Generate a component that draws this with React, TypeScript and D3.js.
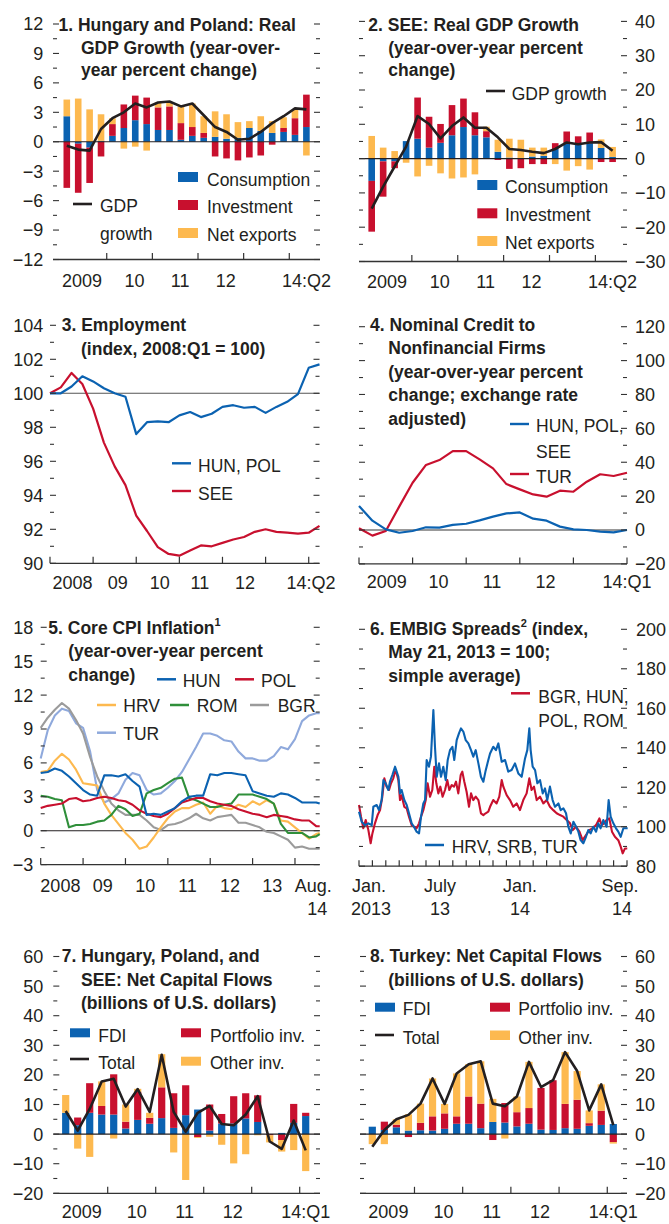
import React from "react";
import * as d3 from "d3";

const FONT = "'Liberation Sans', Arial, Helvetica, sans-serif";
const BLUE = "#0b62b1";
const RED = "#c8102e";
const YEL = "#fdb94f";
const INK = "#231f20";
const AXC = "#333333";
const GREEN = "#2f8f3a";
const GRAY = "#9b9b9b";
const LBLUE = "#8fa9dc";

// ---------- Panel 1: Hungary and Poland real GDP growth (2009:Q1 - 2014:Q2) ----------
const p1XLabels = ["2009", "10", "11", "12", "14:Q2"];
const p1Consumption = [2.6, -0.2, -0.6, 0.1, 0.6, 1.4, 2.2, 1.8, 1.2, 1.2, 0.2, 0.6, 0.4, 0.5, 0.3, 0.4, 1.4, 1.1, 0.9, 1.0, 0.7, 1.5];
const p1Investment = [-4.7, -5.0, -3.6, -1.5, 1.2, 2.4, 2.5, 2.7, 2.3, 2.4, 1.7, 0.9, 0.5, -1.5, -1.7, -1.9, -1.6, -1.4, -0.3, 0.4, 1.7, 3.3];
const p1NetExports = [1.7, 4.4, 3.3, 2.7, 0.6, -0.7, -0.5, -0.9, 0.5, 0.4, 1.7, 2.4, 1.7, 2.6, 2.5, 1.6, 0.7, 1.5, 1.2, 1.1, 0.9, -1.4];
const p1Gdp = [-0.4, -0.8, -0.9, 1.3, 2.4, 3.0, 3.9, 3.5, 4.0, 4.1, 3.6, 3.9, 2.7, 1.5, 1.0, 0.2, 0.3, 1.0, 1.9, 2.6, 3.4, 3.3];

// ---------- Panel 2: SEE real GDP growth ----------
const p2XLabels = ["2009", "10", "11", "12", "14:Q2"];
const p2Consumption = [-6.5, -0.8, -0.8, 5.1, 5.8, 3.2, 4.6, 6.8, 9.2, 6.8, 6.2, 2.0, 0.3, 0.2, 0.6, 0.8, 2.8, 4.5, 4.0, 4.5, 3.1, 0.5];
const p2Investment = [-14.8, -10.3, -2.0, 0, 12.0, 9.0, 5.5, 8.8, 8.3, 6.7, 1.8, -0.4, -3.0, -2.8, -1.6, -1.6, 1.7, 3.4, 2.5, 3.1, -1.0, -1.0];
const p2NetExports = [6.6, 3.2, 2.2, -1.2, -5.2, -2.1, -4.3, -5.8, -5.5, -4.6, 1.3, 3.5, 5.5, 5.3, 2.6, 2.4, -1.6, -3.5, -2.2, -3.2, 2.5, 2.9];
const p2Gdp = [-14.6, -8.2, -2.3, 3.5, 12.4, 10.1, 5.9, 9.5, 12.0, 9.0, 9.0, 6.2, 2.8, 2.5, 2.0, 1.6, 2.8, 4.7, 4.2, 4.7, 4.8, 2.3];

// ---------- Panel 3: Employment (2008:Q1 - 2014:Q2) ----------
const p3XLabels = ["2008", "09", "10", "11", "12", "14:Q2"];
const p3HunPol = [100.0, 100.0, 100.4, 101.0, 100.7, 100.3, 100.0, 99.8, 97.6, 98.3, 98.35, 98.3, 98.7, 98.9, 98.6, 98.8, 99.2, 99.3, 99.15, 99.2, 98.85, 99.2, 99.5, 99.95, 101.5, 101.7];
const p3See = [100.0, 100.35, 101.2, 100.55, 99.1, 97.1, 95.7, 94.6, 92.8, 91.9, 90.95, 90.55, 90.45, 90.75, 91.05, 91.0, 91.2, 91.4, 91.55, 91.85, 92.0, 91.85, 91.8, 91.75, 91.8, 92.2];

// ---------- Panel 4: Nominal credit to nonfinancial firms (2009:Q1 - 2014:Q1) ----------
const p4XLabels = ["2009", "10", "11", "12", "14:Q1"];
const p4HunPolSee = [14.2, 5.5, 0.4, -1.6, -0.6, 1.6, 1.4, 3.0, 3.7, 5.7, 7.9, 9.8, 10.4, 6.7, 5.5, 2.0, 0.4, 0, -1.0, -1.4, 0];
const p4Tur = [1.0, -3.3, -0.6, 13.8, 27.9, 38.4, 41.3, 46.6, 46.6, 41.7, 36.4, 27.1, 24.0, 21.0, 19.7, 23.2, 22.6, 28.5, 32.9, 31.9, 33.8];

// ---------- Panel 5: Core CPI inflation (months since Jan 2008) ----------
const p5XLabels = ["2008", "09", "10", "11", "12", "13", "Aug."];
const cpiMonths = [0, 2, 4, 6, 8, 10, 12, 14, 16, 18, 20, 22, 24, 26, 28, 30, 32, 34, 36, 38, 40, 42, 44, 46, 48, 50, 52, 54, 56, 58, 60, 62, 64, 66, 68, 70, 72, 74, 76, 78, 79];
const cpiTur = [6.4, 8.9, 10.2, 10.8, 10.6, 9.5, 9.1, 7.0, 3.6, 2.5, 2.8, 3.3, 4.5, 5.1, 4.9, 3.6, 3.2, 3.3, 3.8, 4.4, 5.2, 6.3, 7.4, 8.6, 8.6, 8.4, 8.0, 7.9, 7.0, 6.4, 6.4, 6.2, 6.2, 6.6, 7.4, 7.2, 8.1, 9.7, 10.2, 10.4, 10.4];
const cpiBgr = [9.1, 10.0, 10.7, 11.3, 10.8, 9.8, 8.6, 6.5, 4.8, 3.5, 2.4, 1.8, 1.4, 1.4, 1.4, 0.9, 0.3, 0.06, 0.5, 0.6, 0.8, 1.1, 1.5, 1.1, 0.9, 1.2, 1.3, 1.4, 0.7, 0.7, 0.5, 0.3, -0.1, -0.2, -0.5, -0.8, -1.5, -1.4, -1.6, -1.6, -1.6];
const cpiHrv = [5.2, 5.3, 6.2, 6.8, 6.3, 5.4, 4.2, 4.1, 4.0, 2.4, 1.4, 0.6, -0.2, -0.8, -1.6, -1.4, -0.6, 0.3, 1.1, 1.7, 2.0, 2.0, 2.3, 2.5, 1.5, 2.2, 2.0, 1.9, 2.3, 2.1, 2.6, 2.3, 2.7, 2.4, 0.9, 0.8, 0.3, -0.2, -0.7, -0.3, -0.2];
const cpiRom = [3.1, 3.0, 2.8, 2.7, 0.3, 0.5, 0.5, 0.6, 0.8, 0.9, 1.4, 2.2, 1.9, 1.3, 1.5, 3.3, 3.6, 3.8, 4.2, 4.6, 4.7, 2.9, 2.7, 2.4, 2.1, 2.1, 2.3, 2.4, 3.2, 3.2, 3.2, 3.0, 2.8, 2.4, 0.6, -0.2, -0.2, -0.2, -0.6, -0.5, -0.3];
const cpiPol = [2.0, 2.2, 2.3, 2.4, 2.8, 2.9, 2.6, 2.7, 2.9, 3.0, 2.9, 2.7, 2.6, 2.3, 1.8, 1.5, 1.3, 1.2, 1.5, 2.0, 2.5, 2.7, 2.9, 2.9, 2.6, 2.4, 2.3, 2.2, 1.9, 1.7, 1.5, 1.4, 1.2, 1.4, 1.3, 1.2, 1.0, 0.9, 0.9, 0.4, 0.4];
const cpiHun = [5.1, 5.2, 5.5, 5.3, 4.8, 4.2, 3.6, 3.2, 3.1, 4.9, 4.9, 4.8, 5.0, 4.4, 3.9, 1.4, 1.5, 1.4, 1.7, 2.0, 2.6, 3.0, 3.1, 3.1, 5.0, 4.9, 5.1, 5.1, 5.0, 4.9, 3.5, 3.3, 3.1, 3.0, 3.3, 3.2, 2.9, 2.5, 2.5, 2.5, 2.4];

// ---------- Panel 6: EMBIG spreads (months since Jan 1, 2013) ----------
const p6XLabels = ["Jan.", "July", "Jan.", "Sep."];
const p6XLabels2 = ["2013", "13", "14", "14"];
const embiRedMonths = [0, 0.15, 0.32, 0.5, 0.7, 0.87, 1.0, 1.19, 1.39, 1.57, 1.74, 1.89, 2.06, 2.24, 2.39, 2.56, 2.69, 2.81, 2.94, 3.06, 3.18, 3.38, 3.56, 3.73, 3.93, 4.1, 4.3, 4.48, 4.63, 4.8, 4.98, 5.12, 5.3, 5.47, 5.62, 5.77, 5.92, 6.07, 6.24, 6.42, 6.59, 6.74, 6.92, 7.09, 7.24, 7.41, 7.59, 7.71, 7.86, 8.03, 8.21, 8.36, 8.53, 8.71, 8.91, 9.1, 9.28, 9.45, 9.65, 9.78, 10.02, 10.27, 10.47, 10.65, 10.77, 11.02, 11.27, 11.51, 11.77, 12.01, 12.26, 12.51, 12.71, 12.88, 13.06, 13.26, 13.51, 13.76, 14.0, 14.25, 14.5, 14.75, 15.0, 15.25, 15.5, 15.75, 15.95, 16.2, 16.45, 16.69, 16.94, 17.19, 17.44, 17.69, 17.94, 18.11, 18.28, 18.48, 18.68, 18.88, 19.1, 19.35, 19.53, 19.68, 19.85, 20.02];
const embiBgrHunPolRom = [111, 105.1, 99.2, 103.4, 98.3, 91.6, 96.6, 101.7, 105.9, 108.4, 115.2, 124.5, 120.3, 118.6, 122, 124.5, 127.9, 127, 123.6, 113.5, 115.9, 110.1, 109.3, 105.1, 100.8, 100, 99.2, 101.7, 105.1, 108.4, 113.5, 122, 115.2, 118.6, 130.4, 122, 116.9, 120.3, 115.2, 118.6, 123.6, 118.6, 121.1, 120.3, 122.8, 116.9, 126.2, 127.9, 122.8, 117.7, 110.1, 116.9, 113.5, 115.2, 113.5, 106.8, 105.9, 106.8, 107.6, 110.1, 113.5, 111.8, 115.2, 123.6, 120.3, 116, 113.5, 110.1, 111.8, 108.4, 113.5, 116.9, 124.5, 118.6, 120.3, 113.5, 115.2, 111.8, 113.5, 110.1, 108.4, 106.8, 105.9, 105.1, 103.4, 101.7, 98.3, 100, 97.5, 93.2, 95.8, 98.3, 99.2, 100.8, 104.2, 100.8, 101.7, 103.4, 104.2, 97.5, 94.9, 93.2, 89.9, 86.5, 89, 89];
const embiBlueMonths = [0, 0.2, 0.45, 0.7, 0.95, 1.07, 1.32, 1.49, 1.69, 1.82, 1.99, 2.19, 2.31, 2.49, 2.69, 2.81, 2.94, 3.06, 3.18, 3.38, 3.56, 3.73, 3.93, 4.1, 4.3, 4.48, 4.63, 4.8, 4.93, 5.05, 5.22, 5.37, 5.55, 5.67, 5.8, 5.97, 6.12, 6.29, 6.47, 6.62, 6.79, 6.97, 7.11, 7.29, 7.46, 7.61, 7.79, 7.96, 8.16, 8.36, 8.53, 8.71, 8.91, 9.1, 9.28, 9.45, 9.65, 9.78, 10.02, 10.22, 10.4, 10.65, 10.9, 11.14, 11.39, 11.64, 11.89, 12.14, 12.39, 12.56, 12.71, 12.81, 12.96, 13.14, 13.31, 13.51, 13.71, 13.88, 14.05, 14.25, 14.45, 14.63, 14.88, 15.05, 15.25, 15.45, 15.62, 15.8, 16, 16.2, 16.37, 16.54, 16.74, 16.94, 17.11, 17.29, 17.49, 17.69, 17.86, 18.03, 18.23, 18.48, 18.63, 18.78, 18.98, 19.18, 19.35, 19.53, 19.73, 19.93, 20.05];
const embiHrvSrbTur = [107.6, 102.5, 100.8, 101.7, 100.8, 110.1, 111, 108.4, 113.5, 123.6, 122, 118.6, 122.8, 126.2, 130.4, 127.9, 125.3, 116.9, 118.6, 113.5, 111, 106.8, 101.7, 100, 97.5, 96.6, 105.1, 111.8, 113.5, 133.8, 130.4, 135.5, 159.1, 140.5, 125.3, 132.1, 125.3, 130.4, 123.6, 133.8, 138.8, 140.5, 133.8, 143.9, 147.3, 149.8, 148.1, 143.9, 142.2, 138.8, 135.5, 138.8, 132.1, 125.3, 122.8, 128.4, 133.8, 137.1, 140.5, 138.8, 142.2, 132.9, 133.8, 127.9, 128.7, 132.1, 127, 125.3, 134.6, 138.8, 149.8, 138.8, 130.4, 128.7, 122, 123.6, 116.9, 119.4, 113.5, 120.3, 113.5, 110.1, 111.8, 108.4, 109.3, 106.8, 100, 96.6, 102.5, 100, 97.5, 93.2, 91.6, 94.9, 98.3, 96.6, 100, 97.5, 101.7, 99.2, 103.4, 100, 113.5, 105.1, 101.7, 99.2, 97.5, 94.9, 99.2, 99.2, 99.2];

// ---------- Panel 7: Hungary, Poland and SEE net capital flows (2009:Q1 - 2014:Q1) ----------
const p7XLabels = ["2009", "10", "11", "12", "14:Q1"];
const p7Fdi = [7.2, 3.0, 7.2, 6.6, 6.6, 1.9, 4.8, 3.5, 5.4, 2.1, 6.4, 8.3, 1.2, 3.6, 3.6, 5.3, 4.1, 0, 0.4, 3.8, 6.1];
const p7Portfolio = [0, 2.6, 10.0, 2.9, 13.6, 2.3, 9.5, 2.0, 10.4, 11.7, 10.1, -1.0, 8.8, 3.2, 9.2, 8.5, 9.0, -0.4, -2.0, 6.4, 1.1];
const p7Other = [6.0, -4.9, -7.7, 8.3, -1.5, 5.8, 1.0, 1.7, 11.2, -6.2, -15.5, -0.3, -0.9, -3.6, -9.9, -6.8, -0.4, -2.4, -3.9, -5.4, -12.5];
const p7Total = [7.8, 1.2, 8.5, 17.8, 18.7, 9.3, 15.2, 7.5, 26.8, 7.5, 0.8, 7.2, 9.5, 3.4, 3.0, 6.6, 12.8, -2.5, -5.0, 4.6, -5.5];

// ---------- Panel 8: Turkey net capital flows ----------
const p8XLabels = ["2009", "10", "11", "12", "14:Q1"];
const p8Fdi = [2.5, 1.4, 2.3, 1.2, 1.3, 1.2, 1.8, 3.5, 3.5, 2.0, 4.1, 3.9, 2.6, 3.5, 1.5, 1.4, 2.0, 1.8, 2.8, 3.1, 3.4];
const p8Portfolio = [0, 2.8, 0.9, -1.0, 2.5, 4.8, 5.2, 2.5, 9.2, 8.3, -2.0, 6.6, 4.8, 5.3, 14.1, 16.8, 8.2, 9.8, 0.9, 4.8, -2.7];
const p8Other = [-3.4, -3.4, 1.8, 5.5, 6.5, 12.8, 3.2, 14.5, 10.9, 14.3, 7.8, -1.5, 5.3, 15.6, 0, 0, 17.5, 9.7, 4.3, 8.9, -0.5];
const p8Total = [-4.3, 1.4, 5.0, 6.5, 10.3, 18.8, 10.2, 20.5, 23.6, 24.6, 10.3, 9.4, 12.7, 24.4, 15.9, 18.2, 27.7, 21.3, 8.0, 16.8, 3.0];

type Scale = d3.ScaleLinear<number, number>;

const fmt = (v: number) => (v < 0 ? "\u2212" + Math.abs(v) : String(v));

function YTicks({ y, from, to, step, minor, x0, x1, side, labelX }: {
  y: Scale; from: number; to: number; step: number; minor: number; x0: number; x1: number; side: "left" | "right"; labelX: number;
}) {
  const majors = d3.range(from, to + step / 2, step);
  const minors = d3.range(from, to + minor / 2, minor).filter((v) => !majors.some((m) => Math.abs(m - v) < 1e-9));
  return (
    <g>
      {majors.map((v) => (
        <g key={"M" + v}>
          <line x1={x0} x2={x0 + 6} y1={y(v)} y2={y(v)} stroke={AXC} strokeWidth={1.1} />
          <line x1={x1 - 6} x2={x1} y1={y(v)} y2={y(v)} stroke={AXC} strokeWidth={1.1} />
          <text x={labelX} y={y(v) + 6.4} textAnchor={side === "left" ? "end" : "start"} fontSize={18} fill={INK}>
            {fmt(v)}
          </text>
        </g>
      ))}
      {minors.map((v) => (
        <g key={"m" + v}>
          <line x1={x0} x2={x0 + 4} y1={y(v)} y2={y(v)} stroke={AXC} strokeWidth={1.1} />
          <line x1={x1 - 4} x2={x1} y1={y(v)} y2={y(v)} stroke={AXC} strokeWidth={1.1} />
        </g>
      ))}
    </g>
  );
}

function XAxis({ x0, x1, yb, ticks, len = 6.5 }: { x0: number; x1: number; yb: number; ticks: number[]; len?: number }) {
  return (
    <g>
      <line x1={x0} x2={x1} y1={yb} y2={yb} stroke={AXC} strokeWidth={1.3} />
      {ticks.map((t, i) => (
        <line key={i} x1={t} x2={t} y1={yb} y2={yb - len} stroke={AXC} strokeWidth={1.2} />
      ))}
    </g>
  );
}

function XLabels({ labels, xs, y }: { labels: string[]; xs: number[]; y: number }) {
  return (
    <g>
      {labels.map((l, i) => (
        <text key={i} x={xs[i]} y={y} textAnchor="middle" fontSize={18} fill={INK}>
          {l}
        </text>
      ))}
    </g>
  );
}

function Title({ x, xi, ys, lines }: { x: number; xi: number; ys: number[]; lines: React.ReactNode[] }) {
  return (
    <g fontWeight="bold" fontSize={17.5} fill={INK}>
      {lines.map((l, i) => (
        <text key={i} x={i === 0 ? x : xi} y={ys[i]}>
          {l}
        </text>
      ))}
    </g>
  );
}

function StackedBars({ x, y, cols, colors, width }: { x: Scale; y: Scale; cols: number[][]; colors: string[]; width: number }) {
  const keys = cols.map((_, i) => "k" + i);
  const rows = cols[0].map((_, i) => {
    const r: Record<string, number> = {};
    cols.forEach((c, k) => (r["k" + k] = c[i]));
    return r;
  });
  const series = d3.stack<Record<string, number>>().keys(keys).offset(d3.stackOffsetDiverging)(rows);
  return (
    <g>
      {series.map((s, si) => (
        <g key={s.key} fill={colors[si]}>
          {s.map((d, i) => {
            const a = y(d[0]);
            const b = y(d[1]);
            return <rect key={i} x={x(i) - width / 2} width={width} y={Math.min(a, b)} height={Math.abs(b - a)} />;
          })}
        </g>
      ))}
    </g>
  );
}

function IdxLine({ x, y, values, color, w = 2.2 }: { x: Scale; y: Scale; values: number[]; color: string; w?: number }) {
  const gen = d3.line<number>().x((_, i) => x(i)).y((d) => y(d));
  return <path d={gen(values) || ""} fill="none" stroke={color} strokeWidth={w} strokeLinejoin="round" />;
}

function XYLine({ x, y, xs, values, color, w = 2.1 }: { x: Scale; y: Scale; xs: number[]; values: number[]; color: string; w?: number }) {
  const pts = values.map((v, i) => [xs[i], v] as [number, number]);
  const gen = d3.line<[number, number]>().x((d) => x(d[0])).y((d) => y(d[1]));
  return <path d={gen(pts) || ""} fill="none" stroke={color} strokeWidth={w} strokeLinejoin="round" />;
}

function Swatch({ x, y, color, h = 10 }: { x: number; y: number; color: string; h?: number }) {
  return <rect x={x} y={y} width={20} height={h} fill={color} />;
}
function LKey({ x, y, color, w = 2.5 }: { x: number; y: number; color: string; w?: number }) {
  return <line x1={x} x2={x + 19} y1={y} y2={y} stroke={color} strokeWidth={w} />;
}
function T({ x, y, children }: { x: number; y: number; children: React.ReactNode }) {
  return (
    <text x={x} y={y} fontSize={17.5} fill={INK}>
      {children}
    </text>
  );
}

export default function App() {
  // ---------- scales ----------
  const p1x = d3.scaleLinear().domain([0, 21]).range([66.8, 306.4]);
  const p1y = d3.scaleLinear().domain([-12, 12]).range([259.5, 24]);
  const p2x = d3.scaleLinear().domain([0, 21]).range([371.7, 612.6]);
  const p2y = d3.scaleLinear().domain([-30, 40]).range([261.5, 21.4]);
  const p3x = d3.scaleLinear().domain([0, 25]).range([50, 319.5]);
  const p3y = d3.scaleLinear().domain([90, 104]).range([563.3, 325.3]);
  const p4x = d3.scaleLinear().domain([0, 20]).range([359, 627]);
  const p4y = d3.scaleLinear().domain([-20, 120]).range([563.9, 326.7]);
  const p5x = d3.scaleLinear().domain([0, 79]).range([40.7, 319.7]);
  const p5y = d3.scaleLinear().domain([-3, 18]).range([864.6, 627.3]);
  const p6x = d3.scaleLinear().domain([0, 20]).range([359, 627]);
  const p6y = d3.scaleLinear().domain([80, 200]).range([866.2, 629.3]);
  const p7x = d3.scaleLinear().domain([0, 20]).range([65.7, 305.7]);
  const p7y = d3.scaleLinear().domain([-20, 60]).range([1193.3, 956.5]);
  const p8x = d3.scaleLinear().domain([0, 20]).range([372.3, 613.3]);
  const p8y = p7y;

  const yearTicksQ = [3.5, 7.5, 11.5, 15.5, 19.5];
  const barLabelXs = (x: Scale, lastIdx: number) => [x(1.5) - 2, x(5.5) + 5, x(9.5) + 5, x(13.5) + 5, x(lastIdx)];

  return (
    <svg
      width={669}
      height={1224}
      viewBox="0 0 669 1224"
      style={{ position: "absolute", left: 0, top: 0, background: "#fff" }}
      fontFamily={FONT}
    >
      <rect x={0} y={0} width={669} height={1224} fill="#fff" />

      {/* ================= Panel 1 ================= */}
      <StackedBars x={p1x} y={p1y} cols={[p1Consumption, p1Investment, p1NetExports]} colors={[BLUE, RED, YEL]} width={6.6} />
      <line x1={53} x2={320} y1={p1y(0)} y2={p1y(0)} stroke={INK} strokeWidth={1.1} />
      <IdxLine x={p1x} y={p1y} values={p1Gdp} color={INK} w={2.6} />
      <YTicks y={p1y} from={-12} to={12} step={3} minor={1.5} x0={53} x1={320} side="left" labelX={43.3} />
      <XAxis x0={53} x1={320} yb={p1y(-12)} ticks={yearTicksQ.map((q) => p1x(q))} />
      <XLabels labels={p1XLabels} xs={barLabelXs(p1x, 21)} y={286.5} />
      <Title x={58.5} xi={81} ys={[31, 53.5, 76]} lines={["1. Hungary and Poland: Real", "GDP Growth (year-over-", "year percent change)"]} />
      <Swatch x={178} y={172} color={BLUE} />
      <T x={207} y={185.5}>Consumption</T>
      <Swatch x={178} y={200} color={RED} />
      <T x={207} y={213}>Investment</T>
      <Swatch x={178} y={228} color={YEL} />
      <T x={207} y={240.5}>Net exports</T>
      <LKey x={73} y={204} color={INK} w={2.6} />
      <T x={100} y={212}>GDP</T>
      <T x={100} y={239.5}>growth</T>

      {/* ================= Panel 2 ================= */}
      <StackedBars x={p2x} y={p2y} cols={[p2Consumption, p2Investment, p2NetExports]} colors={[BLUE, RED, YEL]} width={6.6} />
      <line x1={359} x2={627} y1={p2y(0)} y2={p2y(0)} stroke={INK} strokeWidth={1.1} />
      <IdxLine x={p2x} y={p2y} values={p2Gdp} color={INK} w={2.6} />
      <YTicks y={p2y} from={-30} to={40} step={10} minor={5} x0={359} x1={627} side="right" labelX={635} />
      <XAxis x0={359} x1={627} yb={p2y(-30)} ticks={yearTicksQ.map((q) => p2x(q))} />
      <XLabels labels={p2XLabels} xs={barLabelXs(p2x, 21)} y={287.5} />
      <Title x={368.3} xi={388.3} ys={[31, 53.5, 76]} lines={["2. SEE: Real GDP Growth", "(year-over-year percent", "change)"]} />
      <LKey x={486} y={91} color={INK} w={2.6} />
      <T x={511.7} y={100}>GDP growth</T>
      <Swatch x={477.3} y={180} color={BLUE} />
      <T x={505} y={193.3}>Consumption</T>
      <Swatch x={477.3} y={208.3} color={RED} />
      <T x={505} y={221}>Investment</T>
      <Swatch x={477.3} y={236} color={YEL} />
      <T x={505} y={248.5}>Net exports</T>

      {/* ================= Panel 3 ================= */}
      <line x1={50} x2={319.5} y1={p3y(100)} y2={p3y(100)} stroke="#555" strokeWidth={1.1} />
      <IdxLine x={p3x} y={p3y} values={p3See} color={RED} w={2.2} />
      <IdxLine x={p3x} y={p3y} values={p3HunPol} color={BLUE} w={2.2} />
      <YTicks y={p3y} from={90} to={104} step={2} minor={1} x0={50} x1={319.5} side="left" labelX={43.3} />
      <XAxis x0={50} x1={319.5} yb={p3y(90)} ticks={[0, 4, 8, 12, 16, 20, 24].map((q) => p3x(q))} />
      <XLabels
        labels={p3XLabels}
        xs={[p3x(2) + 1, p3x(6) + 3, p3x(10) + 2, p3x(14) - 1, p3x(18) + 1, p3x(25) - 8.5]}
        y={589}
      />
      <Title x={61.7} xi={81} ys={[331, 354.5]} lines={["3. Employment", "(index, 2008:Q1 = 100)"]} />
      <LKey x={172} y={463.3} color={BLUE} w={2.4} />
      <T x={198} y={471.7}>HUN, POL</T>
      <LKey x={172} y={491} color={RED} w={2.4} />
      <T x={198} y={499.7}>SEE</T>

      {/* ================= Panel 4 ================= */}
      <line x1={359} x2={627} y1={p4y(0)} y2={p4y(0)} stroke="#777" strokeWidth={1.4} />
      <IdxLine x={p4x} y={p4y} values={p4Tur} color={RED} w={2.2} />
      <IdxLine x={p4x} y={p4y} values={p4HunPolSee} color={BLUE} w={2.2} />
      <YTicks y={p4y} from={-20} to={120} step={20} minor={10} x0={359} x1={627} side="right" labelX={635} />
      <XAxis x0={359} x1={627} yb={p4y(-20)} ticks={[0, 4, 8, 12, 16, 20].map((q) => p4x(q))} />
      <XLabels labels={p4XLabels} xs={[p4x(2) + 1, p4x(6) - 1, p4x(10) - 1, p4x(14) - 1, p4x(20)]} y={588} />
      <Title
        x={370}
        xi={388.3}
        ys={[330.7, 354.3, 377.5, 401, 424.5]}
        lines={["4. Nominal Credit to", "Nonfinancial Firms", "(year-over-year percent", "change; exchange rate", "adjusted)"]}
      />
      <LKey x={510} y={424} color={BLUE} w={2.4} />
      <T x={536} y={432.3}>HUN, POL,</T>
      <T x={536} y={458.3}>SEE</T>
      <LKey x={510} y={474} color={RED} w={2.4} />
      <T x={536} y={483.3}>TUR</T>

      {/* ================= Panel 5 ================= */}
      <line x1={40.7} x2={319.7} y1={p5y(0)} y2={p5y(0)} stroke={INK} strokeWidth={1.1} />
      <XYLine x={p5x} y={p5y} xs={cpiMonths} values={cpiTur} color={LBLUE} />
      <XYLine x={p5x} y={p5y} xs={cpiMonths} values={cpiBgr} color={GRAY} />
      <XYLine x={p5x} y={p5y} xs={cpiMonths} values={cpiHrv} color={YEL} />
      <XYLine x={p5x} y={p5y} xs={cpiMonths} values={cpiRom} color={GREEN} />
      <XYLine x={p5x} y={p5y} xs={cpiMonths} values={cpiPol} color={RED} />
      <XYLine x={p5x} y={p5y} xs={cpiMonths} values={cpiHun} color={BLUE} />
      <YTicks y={p5y} from={-3} to={18} step={3} minor={1.5} x0={40.7} x1={319.7} side="left" labelX={33.3} />
      <XAxis x0={40.7} x1={319.7} yb={p5y(-3)} ticks={[0, 12, 24, 36, 48, 60, 72].map((m) => p5x(m))} />
      <XLabels
        labels={p5XLabels}
        xs={[6, 18, 30, 42, 54, 66].map((m) => p5x(m) - 1.5).concat([p5x(79) - 6.5])}
        y={892}
      />
      <XLabels labels={["14"]} xs={[p5x(79) - 2.5]} y={915} />
      <Title
        x={48.3}
        xi={68.3}
        ys={[634, 657, 680.5]}
        lines={[
          <>
            5. Core CPI Inflation
            <tspan fontSize={11} dy={-8}>
              1
            </tspan>
          </>,
          "(year-over-year percent",
          "change)",
        ]}
      />
      <LKey x={157} y={679.3} color={BLUE} />
      <T x={182.7} y={686.7}>HUN</T>
      <LKey x={235} y={679.3} color={RED} />
      <T x={261} y={686.7}>POL</T>
      <LKey x={97} y={705} color={YEL} />
      <T x={123.3} y={712.3}>HRV</T>
      <LKey x={170} y={705} color={GREEN} />
      <T x={196.7} y={712.3}>ROM</T>
      <LKey x={250} y={705} color={GRAY} />
      <T x={277.7} y={712.3}>BGR</T>
      <LKey x={97} y={732.7} color={LBLUE} />
      <T x={123.3} y={740}>TUR</T>

      {/* ================= Panel 6 ================= */}
      <line x1={359} x2={627} y1={p6y(100)} y2={p6y(100)} stroke="#666" strokeWidth={1.2} />
      <XYLine x={p6x} y={p6y} xs={embiRedMonths} values={embiBgrHunPolRom} color={RED} w={2.1} />
      <XYLine x={p6x} y={p6y} xs={embiBlueMonths} values={embiHrvSrbTur} color={BLUE} w={2.1} />
      <YTicks y={p6y} from={80} to={200} step={20} minor={10} x0={359} x1={627} side="right" labelX={636} />
      <XAxis x0={359} x1={627} yb={p6y(80)} ticks={d3.range(0, 21).map((m) => p6x(m))} len={6} />
      <XLabels labels={p6XLabels} xs={[p6x(0) + 10, p6x(6) + 0.6, p6x(12) + 0.2, p6x(20) - 7]} y={892} />
      <XLabels labels={p6XLabels2} xs={[p6x(0) + 12, p6x(6) + 0.6, p6x(12) + 0.2, p6x(20) - 5]} y={915} />
      <Title
        x={370}
        xi={388.3}
        ys={[635, 658, 681.5]}
        lines={[
          <>
            6. EMBIG Spreads
            <tspan fontSize={11} dy={-8}>
              2
            </tspan>
            <tspan dy={8}> (index,</tspan>
          </>,
          "May 21, 2013 = 100;",
          "simple average)",
        ]}
      />
      <LKey x={511} y={693.3} color={RED} />
      <T x={538.3} y={702.7}>BGR, HUN,</T>
      <T x={538.3} y={726.7}>POL, ROM</T>
      <LKey x={425} y={845} color={BLUE} />
      <T x={451.7} y={853.3}>HRV, SRB, TUR</T>

      {/* ================= Panel 7 ================= */}
      <StackedBars x={p7x} y={p7y} cols={[p7Fdi, p7Portfolio, p7Other]} colors={[BLUE, RED, YEL]} width={7.2} />
      <line x1={53.3} x2={320} y1={p7y(0)} y2={p7y(0)} stroke={INK} strokeWidth={1.1} />
      <IdxLine x={p7x} y={p7y} values={p7Total} color={INK} w={2.6} />
      <YTicks y={p7y} from={-20} to={60} step={10} minor={5} x0={53.3} x1={320} side="left" labelX={43.3} />
      <XAxis x0={53.3} x1={320} yb={p7y(-20)} ticks={yearTicksQ.map((q) => p7x(q))} />
      <XLabels labels={p7XLabels} xs={barLabelXs(p7x, 20)} y={1217.5} />
      <Title
        x={61.7}
        xi={81}
        ys={[962, 985.5, 1009]}
        lines={["7. Hungary, Poland, and", "SEE: Net Capital Flows", "(billions of U.S. dollars)"]}
      />
      <Swatch x={70} y={1028.3} color={BLUE} h={9} />
      <T x={98.3} y={1041.7}>FDI</T>
      <LKey x={70} y={1059} color={INK} w={2.6} />
      <T x={98.3} y={1069.3}>Total</T>
      <Swatch x={181} y={1028.3} color={RED} h={9} />
      <T x={210} y={1041.7}>Portfolio inv.</T>
      <Swatch x={181} y={1056.7} color={YEL} h={9} />
      <T x={210} y={1069.3}>Other inv.</T>

      {/* ================= Panel 8 ================= */}
      <StackedBars x={p8x} y={p8y} cols={[p8Fdi, p8Portfolio, p8Other]} colors={[BLUE, RED, YEL]} width={7.2} />
      <line x1={360} x2={627} y1={p8y(0)} y2={p8y(0)} stroke={INK} strokeWidth={1.1} />
      <IdxLine x={p8x} y={p8y} values={p8Total} color={INK} w={2.6} />
      <YTicks y={p8y} from={-20} to={60} step={10} minor={5} x0={360} x1={627} side="right" labelX={635} />
      <XAxis x0={360} x1={627} yb={p8y(-20)} ticks={yearTicksQ.map((q) => p8x(q))} />
      <XLabels labels={p8XLabels} xs={barLabelXs(p8x, 20)} y={1217.5} />
      <Title x={370} xi={388.3} ys={[962, 985.5]} lines={["8. Turkey: Net Capital Flows", "(billions of U.S. dollars)"]} />
      <Swatch x={375} y={1002.7} color={BLUE} h={9} />
      <T x={402.7} y={1015}>FDI</T>
      <LKey x={375} y={1035} color={INK} w={2.6} />
      <T x={402.7} y={1044.3}>Total</T>
      <Swatch x={490} y={1002.7} color={RED} h={9} />
      <T x={518.3} y={1015}>Portfolio inv.</T>
      <Swatch x={490} y={1030.5} color={YEL} h={9.5} />
      <T x={518.3} y={1044.3}>Other inv.</T>
    </svg>
  );
}
